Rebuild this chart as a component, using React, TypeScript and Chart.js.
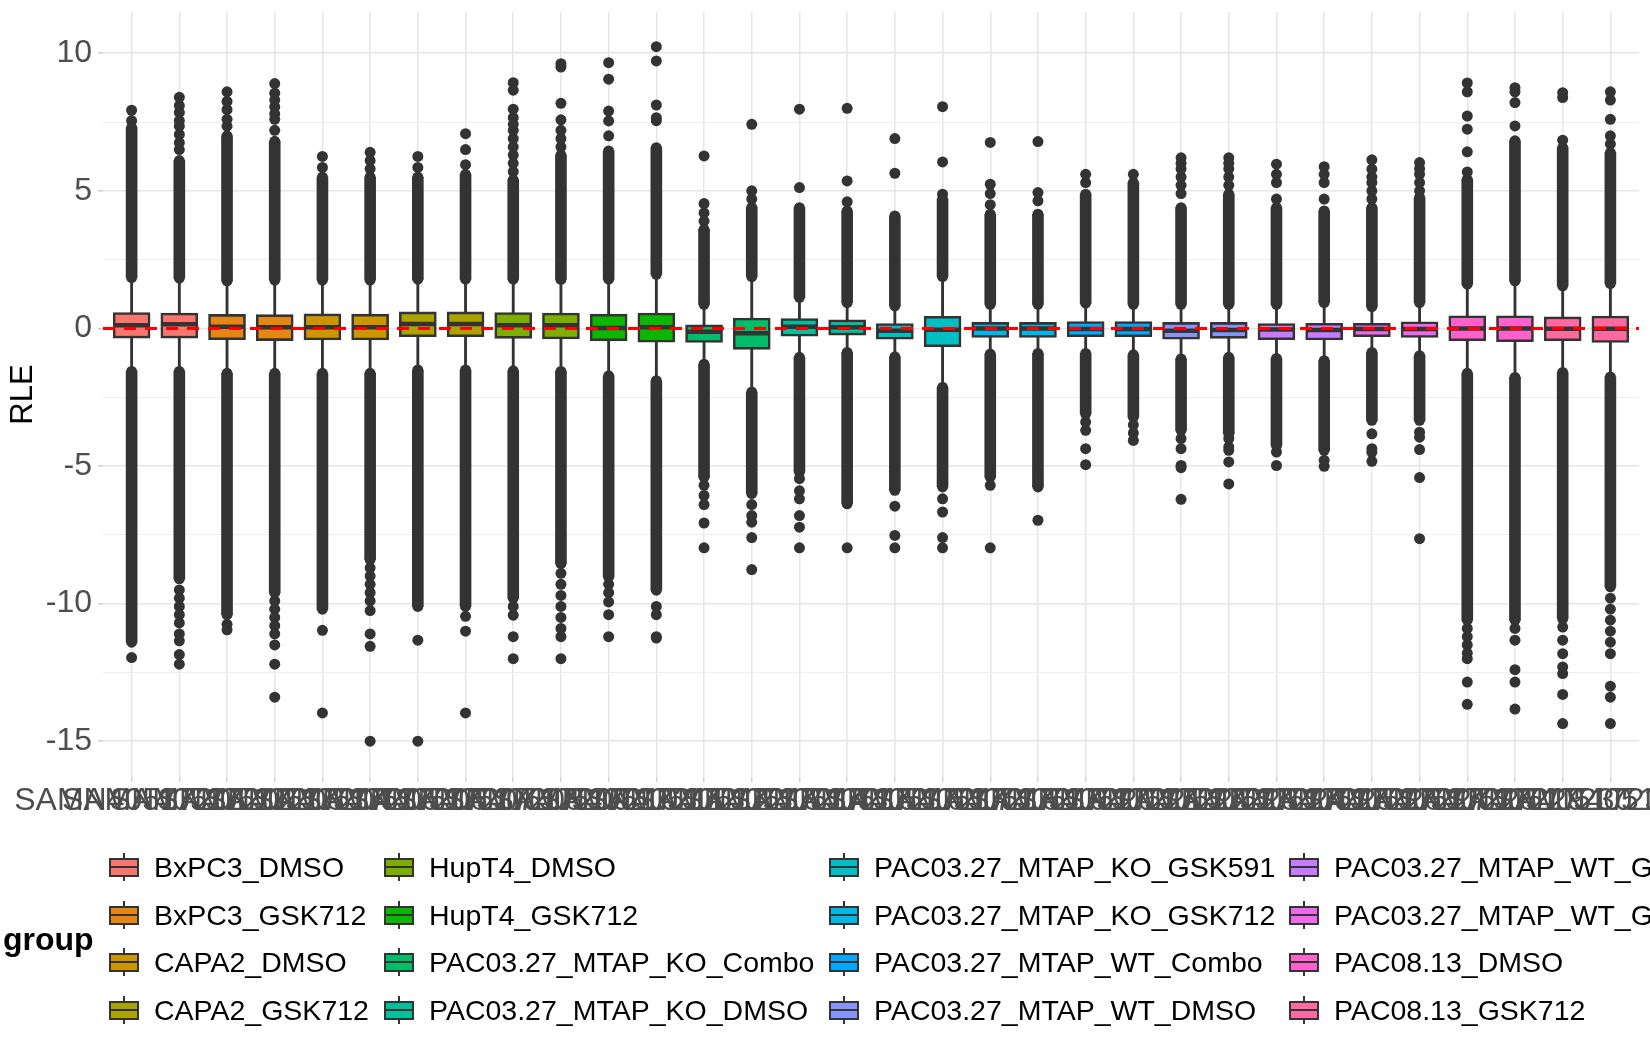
import { useEffect, useRef } from 'react';
import { Chart, registerables } from 'chart.js';

Chart.register(...registerables);

const FONT = '"Liberation Sans", Arial, Helvetica, sans-serif';

const groups = [
  'BxPC3_DMSO',
  'BxPC3_GSK712',
  'CAPA2_DMSO',
  'CAPA2_GSK712',
  'HupT4_DMSO',
  'HupT4_GSK712',
  'PAC03.27_MTAP_KO_Combo',
  'PAC03.27_MTAP_KO_DMSO',
  'PAC03.27_MTAP_KO_GSK591',
  'PAC03.27_MTAP_KO_GSK712',
  'PAC03.27_MTAP_WT_Combo',
  'PAC03.27_MTAP_WT_DMSO',
  'PAC03.27_MTAP_WT_GSK591',
  'PAC03.27_MTAP_WT_GSK712',
  'PAC08.13_DMSO',
  'PAC08.13_GSK712',
];

const groupColors = [
  '#F8766D', '#E68613', '#CD9600', '#ABA300', '#7CAE00', '#0CB702', '#00BE67', '#00C19A',
  '#00BFC4', '#00B8E7', '#00A9FF', '#8494FF', '#C77CFF', '#ED68ED', '#FF61CC', '#FF68A1',
];

const sampleIds = [
  'SAMN40517201', 'SAMN40517202', 'SAMN40517203', 'SAMN40517204',
  'SAMN40517205', 'SAMN40517206', 'SAMN40517207', 'SAMN40517208',
  'SAMN40517209', 'SAMN40517210', 'SAMN40517211', 'SAMN40517212',
  'SAMN40517213', 'SAMN40517214', 'SAMN40517215', 'SAMN40517216',
  'SAMN40517217', 'SAMN40517218', 'SAMN40517219', 'SAMN40517220',
  'SAMN40517221', 'SAMN40517222', 'SAMN40517223', 'SAMN40517224',
  'SAMN40517225', 'SAMN40517226', 'SAMN40517227', 'SAMN40517228',
  'SAMN40517229', 'SAMN40517230', 'SAMN40517231', 'SAMN40517232',
];

const sampleGroup = [
  0, 0, 1, 1, 2, 2, 3, 3, 4, 4, 5, 5, 6, 6, 7, 7,
  8, 8, 9, 9, 10, 10, 11, 11, 12, 12, 13, 13, 14, 14, 15, 15,
];

const q3 = [
  0.58, 0.56, 0.51, 0.5, 0.53, 0.52, 0.6, 0.6, 0.58, 0.56, 0.52, 0.56, 0.13, 0.38, 0.36, 0.31,
  0.18, 0.44, 0.22, 0.22, 0.25, 0.25, 0.22, 0.22, 0.18, 0.19, 0.19, 0.24, 0.46, 0.46, 0.42, 0.45,
];
const median = [
  0.12, 0.15, 0.06, 0.04, 0.04, 0.04, 0.16, 0.16, 0.12, 0.12, 0.02, 0.04, -0.12, -0.17, 0.06, 0.04,
  -0.08, -0.05, 0.0, 0.0, -0.02, -0.02, -0.08, -0.06, -0.04, -0.06, -0.02, -0.02, 0.0, 0.0, -0.01, -0.01,
];
const q1 = [
  -0.35, -0.35, -0.41, -0.44, -0.42, -0.42, -0.3, -0.3, -0.36, -0.38, -0.45, -0.5, -0.51, -0.76, -0.28, -0.24,
  -0.39, -0.67, -0.33, -0.33, -0.3, -0.3, -0.39, -0.36, -0.41, -0.42, -0.3, -0.33, -0.45, -0.48, -0.45, -0.51,
];
const whiskerHi = [
  1.85, 1.83, 1.73, 1.76, 1.76, 1.76, 1.79, 1.79, 1.79, 1.78, 1.79, 1.97, 0.88, 1.88, 1.13, 0.94,
  0.82, 1.88, 0.88, 0.88, 0.92, 0.88, 0.88, 0.88, 0.88, 0.94, 0.79, 0.94, 1.61, 1.73, 1.55, 1.63,
];
const whiskerLo = [
  -1.56, -1.56, -1.63, -1.63, -1.63, -1.63, -1.51, -1.51, -1.54, -1.56, -1.72, -1.9, -1.3, -2.31, -1.05, -0.87,
  -1.03, -2.14, -0.93, -0.91, -0.91, -0.96, -1.11, -1.05, -1.09, -1.17, -0.87, -0.99, -1.63, -1.78, -1.6, -1.76,
];
// where the outlier points stop reading as a solid column
const denseTop = [
  7.3, 6.1, 7.0, 6.8, 5.5, 5.5, 5.5, 5.6, 5.4, 6.3, 6.45, 6.57, 3.6, 4.4, 4.39, 4.27,
  4.09, 4.7, 4.15, 4.15, 4.88, 5.3, 4.39, 4.88, 4.39, 4.27, 4.39, 4.76, 5.42, 6.82, 6.57, 6.39,
];
const denseBottom = [
  -11.4, -9.1, -10.4, -9.6, -10.2, -8.4, -10.1, -10.1, -9.8, -8.55, -9.03, -9.51, -5.4, -6.0, -5.22, -6.37,
  -5.88, -5.76, -5.4, -5.76, -3.1, -3.22, -3.7, -3.82, -4.25, -4.43, -3.34, -3.34, -10.6, -10.6, -10.55, -9.39,
];
const upperOutliers = [
  [7.55, 7.93],
  [6.5, 6.75, 7.05, 7.35, 7.55, 7.85, 8.1, 8.4],
  [7.35, 7.6, 7.95, 8.25, 8.6],
  [7.2, 7.6, 7.8, 8.05, 8.3, 8.55, 8.9],
  [5.85, 6.25],
  [5.8, 6.1, 6.4],
  [5.85, 6.25],
  [5.95, 6.5, 7.08],
  [5.7, 6.0, 6.3, 6.6, 6.9, 7.2, 7.42, 7.66, 7.97, 8.66, 8.93],
  [6.6, 6.9, 7.2, 7.58, 8.18, 9.5, 9.62],
  [7.0, 7.54, 7.9, 9.06, 9.66],
  [7.55, 7.66, 8.12, 9.72, 10.24],
  [3.9, 4.2, 4.54, 6.27],
  [4.7, 5.0, 7.42],
  [5.12, 7.97],
  [4.6, 5.36, 8.0],
  [5.64, 6.9],
  [4.88, 6.05, 8.06],
  [4.5, 4.9, 5.24, 6.76],
  [4.64, 4.94, 6.79],
  [5.3, 5.6],
  [5.6],
  [4.9, 5.2, 5.5, 5.8, 6.0, 6.2],
  [5.2, 5.5, 5.8, 6.0, 6.2],
  [4.7, 5.3, 5.6, 5.97],
  [4.7, 5.3, 5.6, 5.88],
  [4.7, 5.0, 5.3, 5.5, 5.79, 6.13],
  [5.0, 5.3, 5.6, 5.8, 6.03],
  [5.69, 6.42, 7.24, 7.72, 8.6, 8.92],
  [7.36, 8.21, 8.6, 8.75],
  [6.84, 8.39, 8.57],
  [6.7, 7.0, 7.6, 8.3, 8.6],
];
const lowerOutliers = [
  [-11.96],
  [-9.5, -9.8, -10.1, -10.4, -10.7, -11.1, -11.35, -11.85, -12.2],
  [-10.75, -10.95],
  [-9.9, -10.2, -10.5, -10.8, -11.1, -11.5, -12.2, -13.4],
  [-10.97, -13.97],
  [-8.7, -9.0, -9.3, -9.6, -9.9, -10.25, -11.1, -11.55, -15.0],
  [-11.33, -15.0],
  [-10.46, -11.0, -13.97],
  [-10.1, -10.42, -11.2, -12.0],
  [-8.9, -9.3, -9.7, -10.1, -10.5, -10.9, -11.2, -12.0],
  [-9.3, -9.6, -9.94, -10.4, -11.2],
  [-10.1, -10.4, -11.2, -11.25],
  [-5.7, -6.07, -6.4, -7.07, -7.97],
  [-6.4, -6.8, -7.04, -7.6, -8.76],
  [-5.46, -5.9, -6.19, -6.8, -7.22, -7.97],
  [-7.97],
  [-6.46, -7.52, -7.97],
  [-6.19, -6.67, -7.6, -7.97],
  [-5.7, -7.97],
  [-6.97],
  [-3.4, -3.7, -4.37, -4.95],
  [-3.5, -3.8, -4.07],
  [-4.0, -4.37, -4.98, -5.06, -6.21],
  [-4.0, -4.3, -4.43, -4.85, -5.65],
  [-4.49, -4.98],
  [-4.79, -5.01],
  [-3.83, -4.37, -4.5, -4.83],
  [-3.77, -3.95, -4.4, -5.42, -7.64],
  [-10.9, -11.2, -11.5, -11.8, -12.0, -12.85, -13.66],
  [-10.9, -11.33, -12.4, -12.85, -13.83],
  [-10.85, -11.33, -11.82, -12.3, -12.54, -13.3, -14.36],
  [-9.8, -10.2, -10.6, -11.0, -11.4, -11.82, -13.0, -13.4, -14.36],
];

const yTicks = [-15, -12.5, -10, -7.5, -5, -2.5, 0, 2.5, 5, 7.5, 10];
const yMin = -16.3;
const yMax = 11.5;
const refLine = 0;

const DARK = '#333333';

const refLinePlugin = {
  id: 'refLine',
  afterDatasetsDraw(chart: Chart) {
    const { ctx, chartArea, scales } = chart;
    const y = scales.y.getPixelForValue(refLine);
    ctx.save();
    ctx.strokeStyle = '#FF0000';
    ctx.lineWidth = 3;
    ctx.setLineDash([12, 9]);
    ctx.beginPath();
    ctx.moveTo(chartArea.left, y);
    ctx.lineTo(chartArea.right, y);
    ctx.stroke();
    ctx.restore();
  },
};

function RleChart() {
  const canvasRef = useRef<HTMLCanvasElement>(null);
  const chartRef = useRef<Chart | null>(null);

  useEffect(() => {
    if (!canvasRef.current) return;
    chartRef.current?.destroy();

    const idx = sampleIds.map((_, i) => i);
    const pointData = idx.flatMap((i) =>
      [
        ...upperOutliers[i],
        ...lowerOutliers[i],
        whiskerHi[i],
        denseTop[i],
        whiskerLo[i],
        denseBottom[i],
      ].map((y) => ({ x: i, y })),
    );

    chartRef.current = new Chart(canvasRef.current, {
      type: 'bar',
      data: {
        datasets: [
          {
            type: 'line',
            label: 'median',
            data: idx.map((i) => ({ x: i, y: median[i] })),
            showLine: false,
            pointStyle: 'line',
            pointRadius: 17,
            pointBorderWidth: 4.5,
            pointBorderColor: DARK,
            order: 1,
          },
          {
            type: 'bar',
            label: 'box',
            data: idx.map((i) => ({ x: i, y: [q1[i], q3[i]] })),
            backgroundColor: idx.map((i) => groupColors[sampleGroup[i]]),
            borderColor: DARK,
            borderWidth: 2.6,
            borderSkipped: false,
            barThickness: 37,
            grouped: false,
            order: 2,
          },
          {
            type: 'bar',
            label: 'whisker',
            data: idx.map((i) => ({ x: i, y: [whiskerLo[i], whiskerHi[i]] })),
            backgroundColor: DARK,
            borderWidth: 0,
            barThickness: 2.2,
            grouped: false,
            order: 3,
          },
          {
            type: 'bar',
            label: 'upper outliers',
            data: idx.map((i) => ({ x: i, y: [whiskerHi[i], denseTop[i]] })),
            backgroundColor: DARK,
            borderWidth: 0,
            barThickness: 11,
            grouped: false,
            order: 4,
          },
          {
            type: 'bar',
            label: 'lower outliers',
            data: idx.map((i) => ({ x: i, y: [denseBottom[i], whiskerLo[i]] })),
            backgroundColor: DARK,
            borderWidth: 0,
            barThickness: 11,
            grouped: false,
            order: 4,
          },
          {
            type: 'line',
            label: 'outliers',
            data: pointData,
            showLine: false,
            pointRadius: 5.5,
            pointBackgroundColor: DARK,
            pointBorderWidth: 0,
            order: 5,
          },
        ],
      },
      options: {
        responsive: false,
        animation: false,
        events: [],
        layout: { autoPadding: false, padding: { left: 0, right: 11, top: 12, bottom: 213 } },
        plugins: {
          legend: { display: false },
          tooltip: { enabled: false },
        },
        scales: {
          x: {
            type: 'linear',
            min: -0.6,
            max: 31.6,
            offset: false,
            afterBuildTicks: (s: any) => {
              s.ticks = sampleIds.map((_, i) => ({ value: i }));
            },
            afterFit: (s: any) => {
              s.height = 60;
              s.paddingLeft = 0;
              s.paddingRight = 0;
            },
            ticks: {
              autoSkip: false,
              maxRotation: 0,
              minRotation: 0,
              padding: 3,
              color: '#4D4D4D',
              font: { family: FONT, size: 32, lineHeight: 1 },
              callback: (_v: any, i: number) => sampleIds[i],
            },
            grid: {
              offset: false,
              color: '#E6E6E6',
              lineWidth: 1.5,
              tickColor: '#D2D2D2',
              tickLength: 5,
            },
            border: { display: false },
          },
          y: {
            min: yMin,
            max: yMax,
            afterBuildTicks: (s: any) => {
              s.ticks = yTicks.map((v) => ({ value: v }));
            },
            afterFit: (s: any) => {
              s.width = 103;
              s.paddingTop = 0;
              s.paddingBottom = 0;
            },
            ticks: {
              padding: 6,
              color: '#4D4D4D',
              font: { family: FONT, size: 32, lineHeight: 0.6 },
              callback: (v: any) => (Number(v) % 5 === 0 ? String(v) : ''),
            },
            grid: {
              color: (c: any) => (c.tick && c.tick.value % 5 === 0 ? '#E6E6E6' : '#EEEEEE'),
              lineWidth: (c: any) => (c.tick && c.tick.value % 5 === 0 ? 1.6 : 1),
              tickColor: (c: any) => (c.tick && c.tick.value % 5 === 0 ? '#D2D2D2' : 'rgba(0,0,0,0)'),
              tickLength: 5,
            },
            border: { display: false },
            title: {
              display: true,
              text: 'RLE',
              color: '#000000',
              font: { family: FONT, size: 31 },
              padding: { top: 5, bottom: 0 },
            },
          },
        },
      },
      plugins: [refLinePlugin],
    } as any);

    return () => {
      chartRef.current?.destroy();
    };
  }, []);

  return <canvas ref={canvasRef} width={1650} height={1050} style={{ display: 'block' }} />;
}

function LegendKey({ color }: { color: string }) {
  return (
    <div style={{ position: 'relative', width: 30, height: 28, flex: 'none' }}>
      <div style={{ position: 'absolute', left: 14, top: 0, width: 2, height: 28, background: DARK }} />
      <div
        style={{
          position: 'absolute',
          left: 0,
          top: 4.5,
          width: 30,
          height: 19,
          boxSizing: 'border-box',
          border: `2px solid ${DARK}`,
          background: color,
        }}
      />
      <div style={{ position: 'absolute', left: 0, top: 13, width: 30, height: 2, background: DARK }} />
    </div>
  );
}

const legendColLeft = [109, 384, 829, 1289];
const legendRowCenter = [867, 915, 962, 1010];

export default function App() {
  return (
    <div
      style={{
        position: 'absolute',
        left: 0,
        top: 0,
        width: 1650,
        height: 1050,
        overflow: 'hidden',
        background: '#ffffff',
        fontFamily: FONT,
      }}
    >
      <RleChart />
      <div
        style={{
          position: 'absolute',
          left: 3,
          top: 919,
          height: 40,
          display: 'flex',
          alignItems: 'center',
          fontWeight: 'bold',
          fontSize: 32,
          color: '#000',
        }}
      >
        group
      </div>
      {groups.map((g, k) => {
        const col = Math.floor(k / 4);
        const row = k % 4;
        return (
          <div
            key={g}
            style={{
              position: 'absolute',
              left: legendColLeft[col],
              top: legendRowCenter[row] - 20,
              height: 40,
              display: 'flex',
              alignItems: 'center',
              gap: 15,
              fontSize: 28.5,
              color: '#000',
              whiteSpace: 'nowrap',
            }}
          >
            <LegendKey color={groupColors[k]} />
            <span>{g}</span>
          </div>
        );
      })}
    </div>
  );
}
